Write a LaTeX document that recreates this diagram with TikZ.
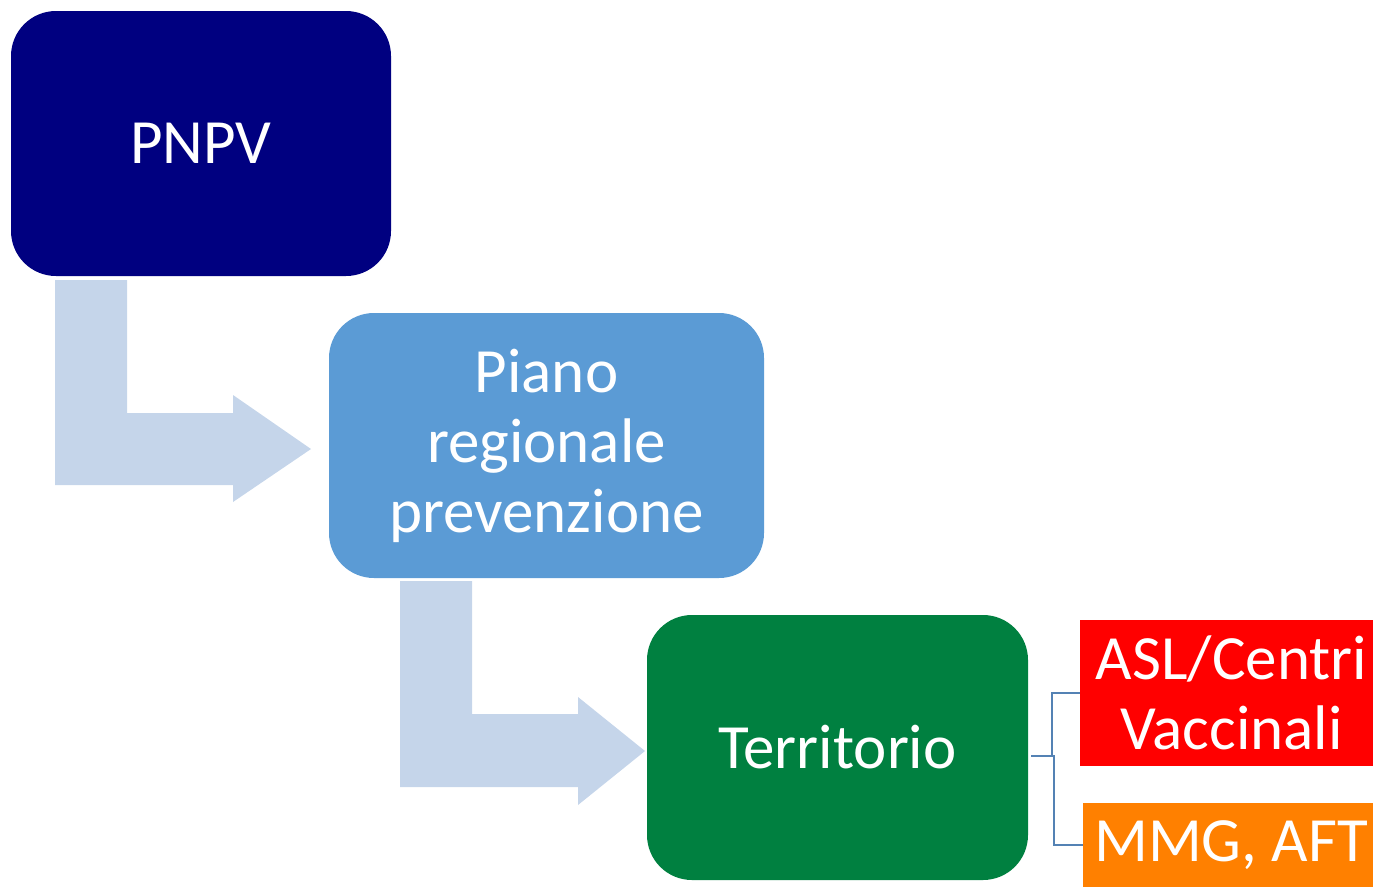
\documentclass[tikz,border=0pt]{standalone}
\usepackage{fontspec}
\setmainfont{Carlito}
\begin{document}
\begin{tikzpicture}[x=1pt,y=-1pt,
  box/.style={rounded corners=45pt, text=white, align=center, inner sep=0pt,
    font=\fontsize{63}{70}\selectfont},
  sqbox/.style={text=white, align=center, inner sep=0pt,
    font=\fontsize{63}{70}\selectfont},
  bentarrow/.style={fill=arrowc, draw=none},
  conn/.style={draw=connc, line width=1.4pt}]
\definecolor{navyc}{RGB}{0,0,128}
\definecolor{pianoc}{RGB}{91,155,213}
\definecolor{terrc}{RGB}{0,128,64}
\definecolor{redc}{RGB}{255,0,0}
\definecolor{orangec}{RGB}{255,128,0}
\definecolor{arrowc}{RGB}{197,213,234}
\definecolor{connc}{RGB}{84,130,180}
\useasboundingbox (0,0) rectangle (1373,887);
% bent arrows
\path[bentarrow] (55,280) -- (127,280) -- (127,413) -- (233,413) -- (233,395) -- (311,449)
  -- (233,502) -- (233,485) -- (55,485) -- cycle;
\path[bentarrow] (400,581) -- (472,581) -- (472,714) -- (578,714) -- (578,697) -- (645,751)
  -- (578,805) -- (578,787) -- (400,787) -- cycle;
% boxes
\node[box, fill=navyc, minimum width=380pt, minimum height=265pt] (pnpv) at (201,143.5) {PNPV};
\node[box, fill=pianoc, minimum width=435pt, minimum height=265pt] (piano) at (546.5,445.5) {\raisebox{-3pt}{Piano}\\\raisebox{-3pt}{regionale}\\\raisebox{-3pt}{prevenzione}};
\node[box, fill=terrc, minimum width=381pt, minimum height=265pt] (terr) at (837.5,747.5) {\raisebox{-2pt}{Territorio}};
\node[sqbox, fill=redc, minimum width=293pt, minimum height=146pt] (asl) at (1226.5,693) {\hspace*{10pt}ASL/Centri\\\hspace*{10pt}Vaccinali};
\node[sqbox, fill=orangec, minimum width=290pt, minimum height=84pt] (mmg) at (1228,845) {\hspace*{6pt}\raisebox{-6pt}{MMG, AFT}};
% connectors
\coordinate (jn) at (1052,756);
\coordinate (jn2) at (1054,756);
\draw[conn] ([xshift=3pt]terr.east |- jn) -- (jn) |- (asl.west);
\draw[conn] (jn) -- (jn2) |- (mmg.west);
\end{tikzpicture}
\end{document}
